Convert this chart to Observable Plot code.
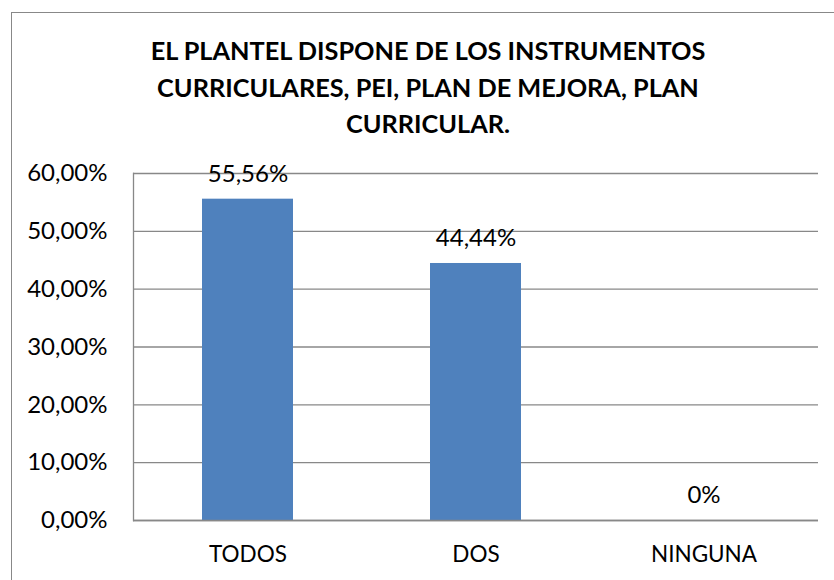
<!DOCTYPE html>
<html>
<head>
<meta charset="utf-8">
<script src="https://cdn.jsdelivr.net/npm/d3@7"></script>
<script src="https://cdn.jsdelivr.net/npm/@observablehq/plot@0.6"></script>
<style>
  html, body { margin: 0; padding: 0; background: #fff; }
  #frame { position: absolute; left: 11px; top: 12px; width: 840px; height: 580px;
           border-left: 1.5px solid #888; border-top: 1.5px solid #888; }
  #wrap { position: absolute; left: 0; top: 0; width: 834px; height: 580px; font-family: Lato, "Open Sans", sans-serif; }
  #title { position: absolute; left: 0; top: 0; width: 856px; height: 150px; text-align: center;
           font-weight: bold; font-size: 25.3px; line-height: 36.5px; padding-top: 32px; box-sizing: border-box; color: #000; }
  #chart { position: absolute; left: 0; top: 150px; }
  #chart svg g[aria-label="x-axis tick label"] text { font-size: 22.5px; }
</style>
</head>
<body>
<div id="frame"></div>
<div id="wrap">
  <div id="title">EL PLANTEL DISPONE DE LOS INSTRUMENTOS<br>CURRICULARES, PEI, PLAN DE MEJORA, PLAN<br>CURRICULAR.</div>
  <div id="chart"></div>
</div>
<script>
const categories = ["TODOS", "DOS", "NINGUNA"];
const values = [0.5556, 0.4444, 0];
const yTicks = [0, 0.1, 0.2, 0.3, 0.4, 0.5, 0.6];

const data = categories.map((c, i) => ({category: c, value: values[i]}));
const fmtTick = d => (d * 100).toFixed(2).replace(".", ",") + "%";
const fmtLabel = d => d === 0 ? "0%" : (d * 100).toFixed(2).replace(".", ",") + "%";

const chart = Plot.plot({
  width: 834,
  height: 430,
  marginLeft: 133,
  marginRight: 16,
  marginTop: 23,
  marginBottom: 60,
  style: {fontFamily: "Lato, 'Open Sans', sans-serif", fontSize: "24px", color: "#000", background: "transparent"},
  x: {domain: categories, paddingInner: 0.6, paddingOuter: 0.3, label: null, tickSize: 0, tickPadding: 26},
  y: {domain: [0, 0.6], ticks: yTicks, tickFormat: fmtTick, label: null, tickSize: 0, tickPadding: 26},
  marks: [
    Plot.gridY(yTicks, {stroke: "#888", strokeOpacity: 1, strokeWidth: 1.3}),
    Plot.frame({anchor: "left", stroke: "#888", strokeWidth: 1.3}),
    Plot.barY(data, {x: "category", y: "value", fill: "#4F81BD"}),
    Plot.ruleY([0], {stroke: "#888", strokeWidth: 1.3}),
    Plot.text(data, {x: "category", y: "value", text: d => fmtLabel(d.value), dy: -25, fontSize: 24, fill: "#000"})
  ]
});
document.getElementById("chart").appendChild(chart);
</script>
</body>
</html>
